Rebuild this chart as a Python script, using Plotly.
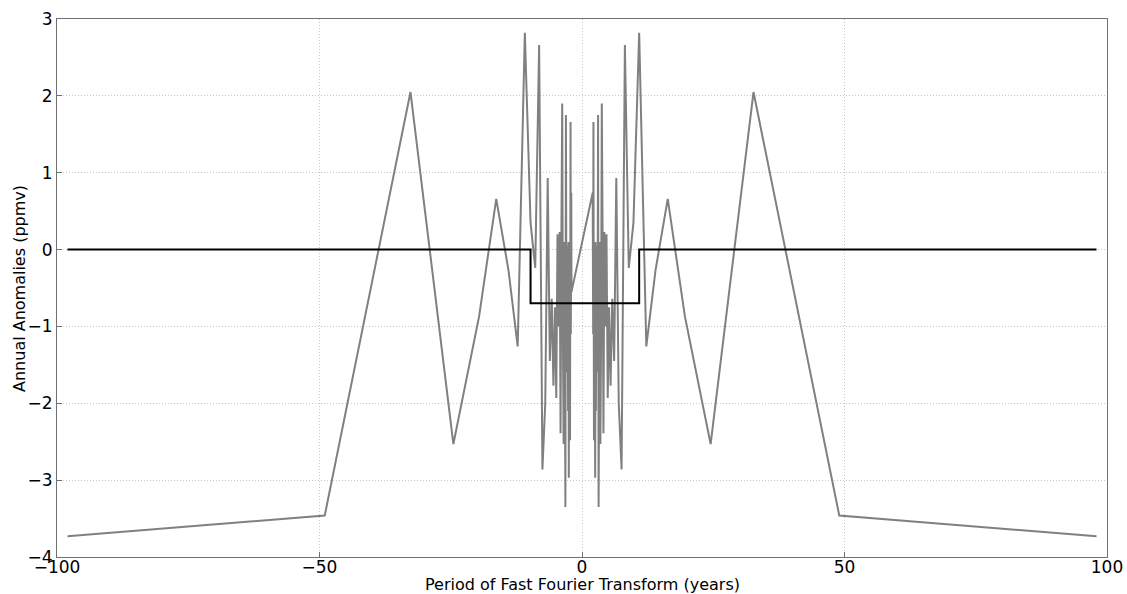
import numpy as np
import plotly.graph_objects as go

# Record length (years) and the real part of each positive harmonic k = 1..49
n_years = 98
real_part = [
    -3.73, -3.46, 2.05, -2.53, -0.87, 0.66, -0.27, -1.26, 2.82, 0.35,
    -0.24, 2.66, -2.86, -2.00, 0.93, -1.45, -0.64, -1.77, -0.75, -1.93,
    0.20, -1.00, 0.23, -2.39, 0.22, 1.90, -1.20, -2.53, 0.10, -1.40,
    -3.35, 1.75, -1.00, 0.05, -1.60, -0.30, -2.10, 0.10, -2.97, -0.40,
    -1.30, 0.05, -2.48, -0.20, 1.66, -1.10, -0.30, 0.74, -0.55,
]

# Low-pass mask: periods shorter than the cutoff are set to the filter level
cutoff_years = 10
filter_level = -0.7

x_ticks = [-100, -50, 0, 50, 100]
y_ticks = [-4, -3, -2, -1, 0, 1, 2, 3]

# FFT frequency order (zero frequency dropped): +1..+48, Nyquist, -48..-1
freqs = np.fft.fftfreq(n_years)[1:]
harm = np.rint(np.abs(freqs) * n_years).astype(int)
periods = 1.0 / freqs
spectrum = np.array(real_part)[harm - 1]
mask = np.where(np.abs(periods) > cutoff_years, 0.0, filter_level)

font = "DejaVu Sans, Liberation Sans, sans-serif"


def minus_label(v):
    return ("\u2212" + str(-v)) if v < 0 else str(v)


fig = go.Figure()
fig.add_trace(go.Scatter(
    x=periods, y=spectrum, mode="lines",
    line=dict(color="#808080", width=2), showlegend=False,
))
fig.add_trace(go.Scatter(
    x=periods, y=mask, mode="lines",
    line=dict(color="#000000", width=2, shape="vh"), showlegend=False,
))

axis_common = dict(
    showline=True, mirror=True, linecolor="#707070", linewidth=1.2,
    ticks="inside", ticklen=5, tickcolor="#707070",
    showgrid=True, gridcolor="#c8c8c8", griddash="1px,2px", gridwidth=1,
    zeroline=False, automargin=False,
    tickfont=dict(size=17, color="#000000", family=font),
)

fig.update_xaxes(range=[-100, 100], tickvals=x_ticks,
                 ticktext=[minus_label(v) for v in x_ticks],
                 ticklabelstandoff=-6, **axis_common)
fig.update_yaxes(range=[-4, 3], tickvals=y_ticks,
                 ticktext=[minus_label(v) for v in y_ticks],
                 **axis_common)

fig.update_layout(
    width=1127, height=594,
    margin=dict(l=57, r=20, t=19, b=37),
    paper_bgcolor="white", plot_bgcolor="white",
    font=dict(family=font, size=17, color="#000000"),
    annotations=[
        dict(text="Period of Fast Fourier Transform (years)",
             xref="paper", yref="paper", x=0.5, y=-0.052,
             xanchor="center", yanchor="middle", showarrow=False,
             font=dict(size=16)),
        dict(text="Annual Anomalies (ppmv)",
             xref="paper", yref="paper", x=-0.0362, y=0.5, textangle=-90,
             xanchor="center", yanchor="middle", showarrow=False,
             font=dict(size=16)),
    ],
)

fig.write_html("out.html")
